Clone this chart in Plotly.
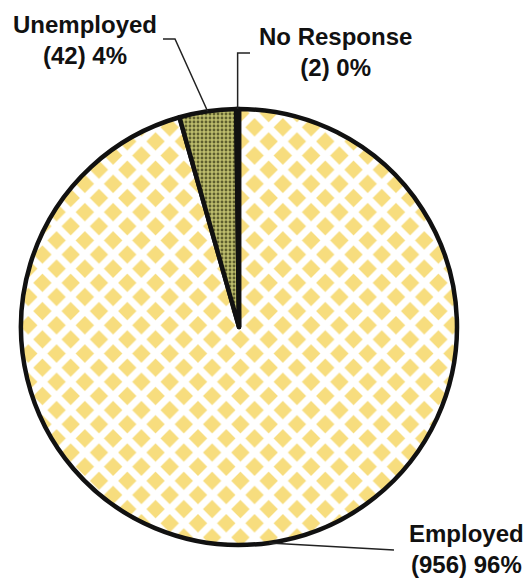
import math
import plotly.graph_objects as go

# Survey responses: employment status
labels = ["Employed", "Unemployed", "No Response"]
counts = [956, 42, 2]

# Slice fills
base_colors = ["#f7dd7e", "#b3b463", "#1a1a1a"]
pattern_shapes = ["x", ".", ""]
pattern_fg = ["#ffffff", "#5e5f2e", "#1a1a1a"]
pattern_bg = ["#f7dd7e", "#bdbd6c", "#1a1a1a"]
pattern_size = [20, 4, 8]
pattern_solidity = [0.58, 0.4, 0.3]

# Label placement (pixels) and leader-line elbows
label_pos = [(466, 549), (85, 40), (335, 52)]
leader_bends = [[(394, 550)], [(175, 39), (163, 39)], [None, (250, 53)]]

W, H = 529, 586
CX, CY, R = 239, 327, 218

total = sum(counts)
texts = [f"{lab}<br>({c}) {round(100 * c / total)}%" for lab, c in zip(labels, counts)]


def to_paper(x, y):
    return x / W, 1 - y / H


def rim_point(frac):
    theta = 2 * math.pi * frac
    return CX + R * math.sin(theta), CY - R * math.cos(theta)


fig = go.Figure(
    go.Pie(
        labels=labels,
        values=counts,
        sort=False,
        direction="clockwise",
        rotation=0,
        textinfo="none",
        hoverinfo="label+value+percent",
        showlegend=False,
        marker=dict(
            colors=base_colors,
            line=dict(color="#111111", width=4.5),
            pattern=dict(
                shape=pattern_shapes,
                fgcolor=pattern_fg,
                bgcolor=pattern_bg,
                size=pattern_size,
                solidity=pattern_solidity,
                fgopacity=1,
            ),
        ),
        domain=dict(
            x=[(CX - R) / W, (CX + R) / W],
            y=[1 - (CY + R) / H, 1 - (CY - R) / H],
        ),
    )
)

shapes = []
annotations = []
cum = 0
for i, c in enumerate(counts):
    mid = (cum + c / 2) / total
    cum += c
    rx, ry = rim_point(mid)
    pts = [(rx, ry)]
    for b in leader_bends[i]:
        if b is None:
            continue
        pts.append(b)
    # vertical leader for the thin top slice
    if leader_bends[i][0] is None:
        pts.insert(1, (rx, leader_bends[i][1][1]))
    path = ""
    for k, (x, y) in enumerate(pts):
        px, py = to_paper(x, y)
        path += ("M" if k == 0 else "L") + f"{px:.5f},{py:.5f} "
    shapes.append(
        dict(type="path", xref="paper", yref="paper", path=path.strip(),
             line=dict(color="#222222", width=1.5))
    )
    lx, ly = to_paper(*label_pos[i])
    annotations.append(
        dict(
            text=texts[i], x=lx, y=ly, xref="paper", yref="paper",
            xanchor="center", yanchor="middle", showarrow=False, align="center",
            font=dict(family="Liberation Sans, Arial, sans-serif", size=24,
                      color="#111111", weight="bold"),
        )
    )

fig.update_layout(
    width=W,
    height=H,
    margin=dict(l=0, r=0, t=0, b=0),
    paper_bgcolor="white",
    plot_bgcolor="white",
    shapes=shapes,
    annotations=annotations,
)

fig.write_html("out.html")
